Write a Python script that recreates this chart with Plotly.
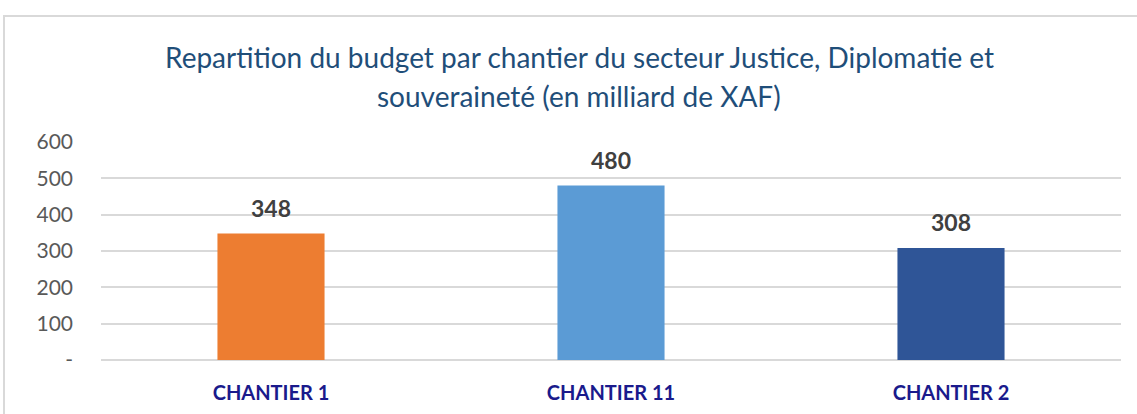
import plotly.graph_objects as go

categories = ["CHANTIER 1", "CHANTIER 11", "CHANTIER 2"]
values = [348, 480, 308]
colors = ["#ED7D31", "#5B9BD5", "#2F5597"]
y_ticks = [0, 100, 200, 300, 400, 500, 600]
y_tick_labels = ["-", "100", "200", "300", "400", "500", "600"]
title_lines = ["Repartition du budget par chantier du secteur Justice, Diplomatie et",
               "souveraineté (en milliard de XAF)"]

FONT = "Lato"

fig = go.Figure()
fig.add_trace(go.Bar(x=categories, y=values, marker=dict(color=colors, line=dict(width=0)),
                     width=0.315, hoverinfo="x+y"))

for c, v in zip(categories, values):
    fig.add_annotation(x=c, y=v, xref="x", yref="y", text=f"<b>{v}</b>", showarrow=False,
                       yshift=26, font=dict(family=FONT, size=23, color="#404040"))

fig.add_annotation(text=title_lines[0], xref="paper", yref="paper", x=0.469, y=1 + (142 - 57) / 218,
                   xanchor="center", yanchor="middle", showarrow=False,
                   font=dict(family=FONT, size=28, color="#1F4E79"))
fig.add_annotation(text=title_lines[1], xref="paper", yref="paper", x=0.469, y=1 + (142 - 96) / 218,
                   xanchor="center", yanchor="middle", showarrow=False,
                   font=dict(family=FONT, size=28, color="#1F4E79"))

# chart frame
fig.add_shape(type="rect", xref="paper", yref="paper",
              x0=(4 - 101) / 1020, x1=(1140 - 101) / 1020,
              y0=(360 - 420) / 218, y1=1 + (142 - 16) / 218,
              line=dict(color="#D9D9D9", width=2), fillcolor="rgba(0,0,0,0)", layer="below")

fig.update_layout(
    width=1137, height=414,
    margin=dict(l=101, r=16, t=142, b=54),
    paper_bgcolor="white", plot_bgcolor="white",
    showlegend=False, bargap=0.685,
    font=dict(family=FONT),
)
fig.update_xaxes(tickfont=dict(family=FONT, size=20, color="#1A1A8C", weight="bold"),
                 showgrid=False, showline=False, ticks="", ticklabelstandoff=19,
                 automargin=False)
fig.update_yaxes(range=[0, 600], tickvals=y_ticks, ticktext=y_tick_labels,
                 tickfont=dict(family=FONT, size=21, color="#595959"),
                 showgrid=True, gridcolor="#D9D9D9", gridwidth=1.5,
                 zeroline=True, zerolinecolor="#D9D9D9", zerolinewidth=1.5,
                 ticks="", ticklabelstandoff=27, automargin=False)

fig.write_html("out.html")
